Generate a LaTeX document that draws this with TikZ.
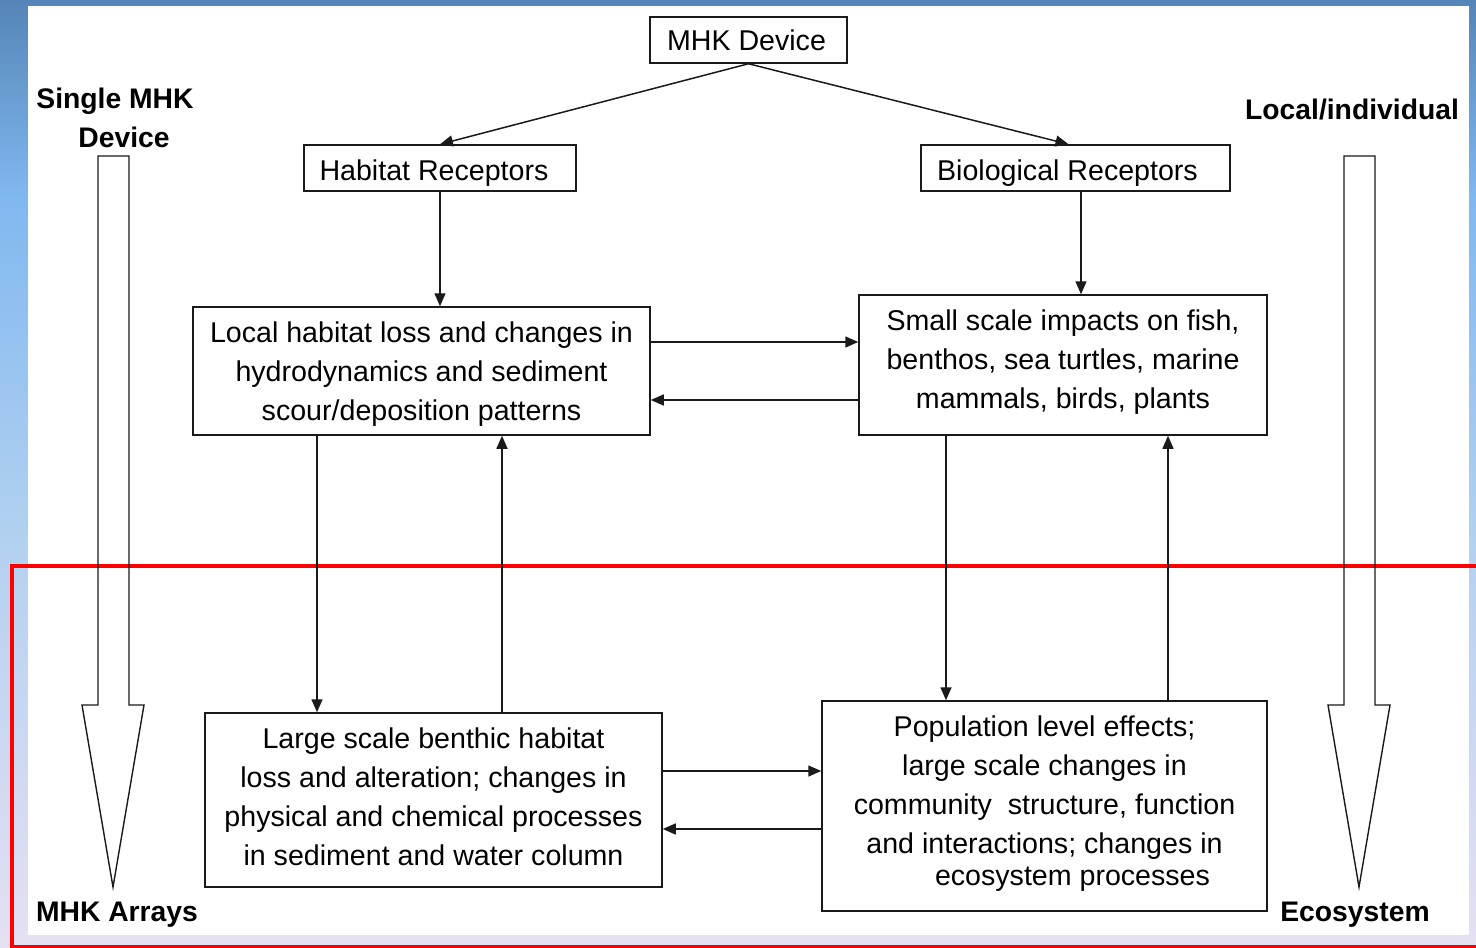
\documentclass[tikz,border=0pt]{standalone}
\usepackage{fontspec}
\setmainfont{Liberation Sans}
\usetikzlibrary{arrows.meta}
\definecolor{bgA}{HTML}{5585B8}
\definecolor{bgB}{HTML}{80B8F0}
\definecolor{bgC}{HTML}{B0D0F0}
\definecolor{bgD}{HTML}{E6E0F2}
\definecolor{lineK}{HTML}{1A1A1A}
\pgfdeclareverticalshading{bgsh}{100bp}{color(0bp)=(bgD); color(25bp)=(bgD); color(47.5bp)=(bgC); color(64.5bp)=(bgB); color(75bp)=(bgA); color(100bp)=(bgA)}
\newcommand{\boxtxt}[2]{\raisebox{#1}[\height][\depth]{\begin{tabular}{@{}c@{}}#2\end{tabular}}}
\tikzset{
  box/.style={draw=lineK, line width=1.5pt, align=center, inner sep=0pt,
    font=\fontsize{28.6}{39}\selectfont},
  arr/.style={draw=lineK, line width=1.5pt, -{Triangle[length=13pt,width=11pt]}},
  lbl/.style={align=center, inner sep=0pt, font=\fontsize{28.3}{39}\selectfont\bfseries},
  barrow/.style={draw=lineK, line width=1.4pt, line join=miter}
}
\begin{document}
\begin{tikzpicture}[x=1pt,y=-1pt]
\useasboundingbox (0,0) rectangle (1476,948);
\shade[shading=bgsh] (0,0) rectangle (1476,948);
\fill[white] (28,6) rectangle (1469,935);
\draw[red, line width=4.5pt] (1490,566) -- (12,566) -- (12,947.5) -- (1490,947.5);

\node[box, minimum width=197pt, minimum height=46pt] (dev) at (748.5,40) {\boxtxt{-3pt}{MHK Device\hspace*{4pt}}};
\node[box, minimum width=272pt, minimum height=46pt] (hab) at (440,168) {\boxtxt{-5pt}{Habitat Receptors\hspace*{12pt}}};
\node[box, minimum width=309pt, minimum height=46pt] (bio) at (1075.5,168) {\boxtxt{-5pt}{Biological Receptors\hspace*{16pt}}};
\node[box, minimum width=457pt, minimum height=128pt] (loc) at (421.5,371) {\boxtxt{-3pt}{Local habitat loss and changes in\\hydrodynamics and sediment\\scour/deposition patterns}};
\node[box, minimum width=408pt, minimum height=140pt] (sma) at (1063,365) {\boxtxt{3pt}{Small scale impacts on fish,\\benthos, sea turtles, marine\\mammals, birds, plants}};
\node[box, minimum width=457pt, minimum height=174pt] (lar) at (433.5,800) {\boxtxt{1pt}{Large scale benthic habitat\\loss and alteration; changes in\\physical and chemical processes\\in sediment and water column}};
\node[box, minimum width=445pt, minimum height=210pt] (pop) at (1044.5,806) {\boxtxt{3pt}{Population level effects;\\large scale changes in\\community\ \ structure, function\\and interactions; changes in\\[-7pt]\hspace*{56pt}ecosystem processes}};

\draw[arr] (dev.south) -- (hab.north);
\draw[arr] (dev.south) -- ([xshift=-7pt]bio.north);
\draw[arr] (hab.south) -- (hab.south |- loc.north);
\draw[arr] ([xshift=5.5pt]bio.south) -- ([xshift=5.5pt]bio.south |- sma.north);
\draw[arr] (loc.east |- 0,342) -- (sma.west |- 0,342);
\draw[arr] (sma.west |- 0,400) -- (loc.east |- 0,400);
\draw[arr] (loc.south -| 317,0) -- (lar.north -| 317,0);
\draw[arr] (lar.north -| 502,0) -- (loc.south -| 502,0);
\draw[arr] (sma.south -| 946,0) -- (pop.north -| 946,0);
\draw[arr] (pop.north -| 1168,0) -- (sma.south -| 1168,0);
\draw[arr] (lar.east |- 0,771) -- (pop.west |- 0,771);
\draw[arr] (pop.west |- 0,829) -- (lar.east |- 0,829);

\draw[barrow] (98,156) -- (98,705) -- (82,705) -- (113,887) -- (144,705) -- (129,705) -- (129,156) -- cycle;
\draw[barrow] (1344,156) -- (1344,705) -- (1328,705) -- (1359,887) -- (1390,705) -- (1375,705) -- (1375,156) -- cycle;

\node[lbl] (single) at (115,118) {Single MHK\\\hspace*{18pt}Device};
\node[lbl] (locind) at (1352,110) {Local/individual};
\node[lbl] (arrays) at (117,915) {MHK Arrays};
\node[lbl] (eco) at (1355,915) {Ecosystem};
\end{tikzpicture}
\end{document}
